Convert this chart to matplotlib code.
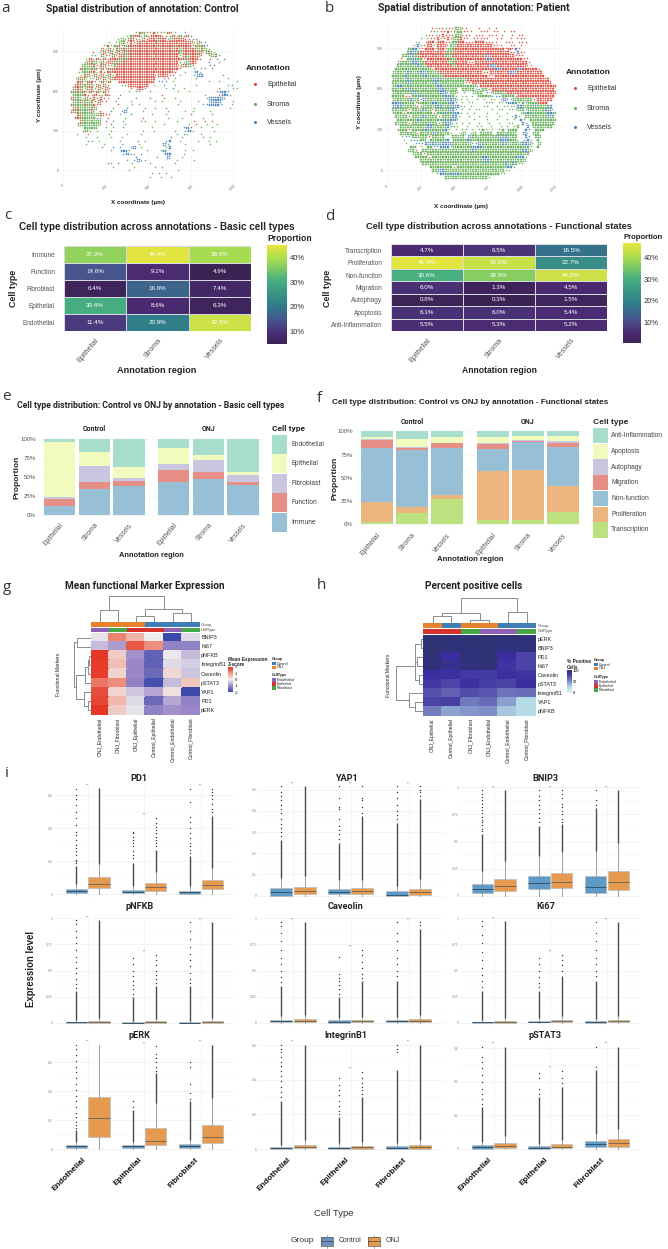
import numpy as np
import matplotlib
matplotlib.use("Agg")
import matplotlib.pyplot as plt
from matplotlib.cm import ScalarMappable
from matplotlib.colors import LinearSegmentedColormap, Normalize
from matplotlib.patches import Rectangle
from matplotlib.transforms import ScaledTranslation

W, H = 668, 1249
plt.rcParams["font.family"] = "Liberation Sans"
NARROW = "Roboto"

# spatial maps: each character is a 25 um cell, lower case one cell, upper case a dense cell
# e epithelial, s stroma, v vessels, x mixed epithelial/stroma
control_map = [
    "                    sxSesxeesxes  v",
    "                 sSxEsSeExEsesxeSexv",
    "               sSsxEesxeEExEEsxExEeevv",
    "            s sSxsEeExEEEExEEEExEEExsxvv",
    "           sxsSxeSExEEEEEExEEEExEEEEsxSxv",
    "          xsxsxSExxEEEExEEExEExESEEExSxSs",
    "        e sxsxsxeSExEEEEEEEEExEExSEEEExsxSs",
    "       ss xesxsExSEEEEEExEEEEEEEsESEExe eSxs",
    "      sxexsxeEExSxEEEEEEEEEEEEEEExSEEEe  e v v",
    "     sxxSsxeExSxEEEEEEEEEEEEEEEEssSEE   v  v",
    "     SSxxexxesSEEEEEEEEEEEEEEEEEexxSe    ve",
    "    xSSSxsxexxEEEEEEEEEEEEEEEEEEe   s sv v",
    "    sSSxxsxexxEEEEEEEEEEEEEEEEEe  s  Vs",
    "    sxxsxexsxsEEEEEEEEEEEeEEEee s   vVV     s",
    "   sxxsssxexsxEEEEEEEEEEEE  ve s     s        s",
    "   xxsxxesxsx  EEEEEEEEEE vvv s         s  s    v",
    "   ExSxxsxexe   ssEEEEEE s  s  s     s        sv",
    "  xExsxxsxexe     e EEs     s v  s         e   sv",
    "  SxSxexexsxe     s ss  e       s  s       vVVv",
    "  SSSxeexesxe  v           e           s   eVVs",
    "  ESSsxexexee  e    s   e   s  s        sVVVVv",
    "  SSxSSxexee  v   s      s s    s    s  vVVV   s",
    "  xSSSxSxee    e   s s          s      vvVVVv  s",
    "  xxSSSxS    s   v    s  s  s       s         s",
    "  xxSSSSe e  v  vV    s      s    s s    s",
    "   xxSSSSxxee  s  v     s   s      e     s",
    "   xxSSSSvv e    s    e      s   s     s",
    "    xSSSSS e v  s    ss  s     s    e  e e",
    "    xSSSSSe  e   s          s      s e  s  s",
    "     SSSS  s s  s       s        vVe  s  s",
    "     eSs s   s        s  s     s  vVs     s",
    "   s  e     s    s   s         s vs   s",
    "      s  s   s  s             v  s     s s",
    "      vv s     s    v s     vV  s    s  s s",
    "      s    s    v    s      Vs    s      s",
    "          s  v v  vV s      sV",
    "             s  VVs    s   sV     s s",
    "                vVvv v      VV   s",
    "                    v     s  V   s",
    "                 s vVvv        s    s",
    "            vs v   s    s      s",
    "             s     s     s s",
    "                  s             s",
    "                        s s s",
    "                        s  s  s",
]
patient_map = [
    "             eseeseeSSee   e  e e",
    "            eeseeEseSSeee  eee ee e ee",
    "           seeseEeeeSSeee eee eee e  e ee",
    "         s seeEseEeSSEee eeeee  ee  e eee",
    "        ss eEEsEEeeSSEEeeeEEEeeee  eee eee",
    "       sVseEEsEEEeSSEEEEEEEEEEEeee  ee e",
    "      SVVseEEEsEEeSSEEEEEEEEEEEEEEEeEeVe",
    "     SVVSEEEEEEEESSEEEEEEEEEEEEEEEEEeeVee",
    "    SSVSSEEEEEEEESSEEEEEEEEEEVEEEEEEEEeee",
    "   e SSVSSeEEEEEEESSEEEEEEEEEVVEEEEEEEEEee",
    "   SSSSVVSSEEEEEEESSEEEEeeEEEEEEEEEEEEEEEEe",
    "  SSSSSSVSSEEEEEEEESEEEEEEEEEEVVEEEEEEEEEee",
    "  SSSSSSSSSSSeEEEEEEEEEEEEEEEEEEVVEEEEEVEEEEEe",
    " SSSSVSSSVVSSSSEEEEEEEEEEEEEeeEEEEEEVVEEEEEEEE",
    " SSSSVSSSSSVSSSSSEEEEEEEEEEEEEeeEEEEEEEEEEEEEEE",
    " SSSSVSSSSSSSVVSSSSSSSSEEEEEEEEEEEEEEEEEEEEEEEEE",
    " SSSSSVSSSSSSSVSSSSSSSSeeEEEEEEEEEEEEEEEEEEEEEEEE",
    " SVVSSSSSSSSSSVVSSSSSSSSSSvEEEEEEEEEEEEEEEEEEEEEEE",
    " SSSSSVSSSSSSSSVVSSSS SSSSvvSSeEEEEEEEEEEEEEEEEEEE",
    " SSSSSSVSSSSSSSVVvSSs s  SSS vvSSSSEEEEEEEEEEEEEEE",
    " SSSSeeSSVSSSSSSSVVSs ss s SSSSvvvSSSSeEEEEEEEEEEE",
    " SSSSSVSSeVSSSSSVSVVss s  s s ss sVvvSSSSSSeEEEEE",
    " VVVSSSSeSSSSVVSSSVVs s ss   sss sssVVSvSvSSSEEE",
    " VVVSSSSeeSSSSVVSSSVVss s   ss  s ssssVVSSSVSSSSV",
    " SSSSSeSSSVSSeSSSSVVs s s ss   s ss sssSSvSSSSSVVs",
    " SSSeSSSSSSSSeSSVSSVVs s s   s  s  s   sSVSSSSSVVS",
    "  SSSSeSSSVSSSSeSSSVVs  s  s s   s   sVs SSSSSSSVS",
    "  SSSSSSVSSSSSSSVSVVs    s   s  s  s s Vs SSSSSSSS",
    "  SSSSeSSSSSVSSeSVVss s s  s  s  s  ss  Vs SSSSSSS",
    "   SSSSSSSSVVSSSSVsss  s  ss  s  s s sS  V SSSSSS",
    "   SSSeSSSSVSSSSSVs s ss s sSs s sS SSS  Vv SSS",
    "   SSSSSeSSSSVSSSSs  sS sS SSSS SSSSSS  Vs SS",
    "    svvSSSSSeSSSS  SSSS VSSSSSSSSVSVSSS  Vv SS",
    "    s vvvSS SSSSSV SSSSVSSSSSSSSSVVVSSs vVs S",
    "     s  vvvVVVSVVVVSSSSSSvvVSSSSSSVSSSSSVVVs S",
    "      SS s SSvvVVVvSSSSSSVVVSSSSSSSSSSSSSSs S",
    "      SSe SSSSSSSSSSSSSSSVSSSSSSSSSSSSSSVVSs",
    "       SSSeSSSSSSSSSSSSSSSSSSSSSSSSSSSSSSS",
    "        SSSSeSSSSSSSSSSSSSSSVVSSSSSSSSVVVs",
    "         SSSSSSSSSSSSSSSSSSSVVSSSSSSSSSSS",
    "          SSSSSSSSSSSSSSSSSSSSSSSSSVSVSss",
    "            SSSSSSSeSSSSSSSSSSSSSSSVVs",
    "             SSVVSSSSSSSSSSSSSSSSSSss",
    "              sVVSVVVSSSSSSSSSSSSss",
    "                 SSSSSSSSSSSSSs",
]

regions = ["Epithelial", "Stroma", "Vessels"]

basic_types = ["Immune", "Function", "Fibroblast", "Epithelial", "Endothelial"]
basic_pct = [[37.3, 44.4, 39.0], [14.6, 9.1, 4.9], [6.4, 16.9, 7.4], [30.4, 8.6, 6.3], [11.4, 20.9, 42.5]]
func_types = ["Transcription", "Proliferation", "Non-function", "Migration", "Autophagy", "Apoptosis", "Anti-Inflammation"]
func_pct = [[4.7, 6.5, 16.5], [46.4, 43.6, 22.7], [30.6, 36.9, 44.2], [6.0, 1.3, 4.5], [0.8, 0.3, 1.5],
            [6.1, 6.0, 5.4], [5.5, 5.3, 5.2]]

# stacked shares, bars run Control Epithelial/Stroma/Vessels then ONJ Epithelial/Stroma/Vessels
e_immune = [12, 34.5, 38.4, 43.2, 47.6, 39.7]
e_function = [9, 9.2, 6.6, 16.2, 9.2, 4.3]
e_fibroblast = [2.6, 20.3, 4, 7.4, 15.2, 8]
e_epithelial = [72, 18.5, 13.5, 21, 6.6, 3.9]
e_endothelial = [4.4, 17.5, 37.5, 12.2, 21.4, 44.1]
f_transcription = [2.5, 12, 27, 4.6, 4.6, 12.9]
f_proliferation = [21.1, 6.2, 5, 52.4, 53.3, 28.1]
f_nonfunction = [58.4, 61.4, 50.5, 24.4, 30.7, 42.6]
f_migration = [8.7, 2.9, 4.5, 5, 1.4, 4.3]
f_autophagy = [0.7, 0.4, 0.3, 1.1, 0.4, 1.7]
f_apoptosis = [2.9, 8.5, 6.3, 6.8, 5, 5.4]
f_antiinflam = [5.7, 8.6, 6.4, 5.7, 4.6, 5]

g_rows = ["BNIP3", "Ki67", "pNFKB", "IntegrinB1", "Caveolin", "pSTAT3", "YAP1", "PD1", "pERK"]
g_cols = ["ONJ_Endothelial", "ONJ_Fibroblast", "ONJ_Epithelial", "Control_Epithelial", "Control_Endothelial", "Control_Fibroblast"]
g_z = [[-0.1, 1.2, 0.7, 0.0, -2.0, -0.2],
       [-0.5, -0.8, 1.6, 1.1, -1.1, -1.1],
       [1.9, 0.4, -0.9, -1.6, -0.05, -0.5],
       [1.85, 0.55, -1.0, -1.6, -0.2, -0.3],
       [1.85, 0.3, -1.0, -1.5, 0.25, -0.4],
       [1.3, 1.1, -1.1, -1.9, -0.5, 0.45],
       [1.7, 0.3, -0.4, -0.7, 0.15, -2.0],
       [1.75, 0.65, -0.2, -1.5, -0.7, -1.1],
       [1.9, 0.4, -0.1, -1.1, -0.9, -1.0]]
g_group = [1, 1, 1, 0, 0, 0]
g_cell = [0, 2, 1, 1, 0, 2]
# dendrogram joins: x_a, h_a, x_b, h_b, h_join
g_top = [(0, 0, 1, 0, 37), (2, 0, 3, 0, 18), (4, 0, 5, 0, 28), (2.5, 18, 4.5, 28, 40), (0.5, 37, 3.5, 40, 77)]
g_left = [(0, 0, 1, 0, 42), (2, 0, 3, 0, 5), (2.5, 5, 4, 0, 9), (3.2, 9, 5, 0, 17), (7, 0, 8, 0, 7),
          (6, 0, 7.5, 7, 20), (4.1, 17, 6.7, 20, 45), (0.5, 42, 5.4, 45, 50)]

h_rows = ["pERK", "BNIP3", "PD1", "Ki67", "Caveolin", "pSTAT3", "IntegrinB1", "YAP1", "pNFKB"]
h_cols = ["ONJ_Epithelial", "Control_Epithelial", "ONJ_Fibroblast", "ONJ_Endothelial", "Control_Endothelial", "Control_Fibroblast"]
h_pct = [[98, 97, 98, 98, 97, 97],
         [98, 97, 97, 97, 96, 96],
         [97, 90, 97, 98, 90, 78],
         [97, 93, 96, 97, 86, 78],
         [88, 88, 84, 82, 88, 86],
         [85, 76, 88, 80, 78, 90],
         [72, 66, 74, 70, 60, 62],
         [78, 80, 58, 63, 45, 25],
         [57, 44, 48, 50, 32, 24]]
h_group = [1, 0, 1, 1, 0, 0]
h_cell = [1, 1, 2, 0, 0, 2]
h_top = [(0, 0, 1, 0, 21), (2, 0, 3, 0, 10), (0.5, 21, 2.5, 10, 30), (4, 0, 5, 0, 33), (1.5, 30, 4.5, 33, 76)]
h_left = [(0, 0, 1, 0, 8), (2, 0, 3, 0, 18), (0.5, 8, 2.5, 18, 24), (4, 0, 5, 0, 13), (1.5, 24, 4.5, 13, 26),
          (7, 0, 8, 0, 25), (6, 0, 7.5, 25, 43), (3, 26, 6.7, 43, 83)]

# box stats: q1, median, q3, upper whisker, top of the unbroken outlier run, separate outliers
# order: Control/ONJ for Endothelial, then Epithelial, then Fibroblast
pd1_boxes = [
    (.008, .018, .033, .063, .17, [.19, .2, .21, .24, .26, .28, .3, .33, .36, .38, .42, .46, .5, .54, .58, .6, .64]),
    (.04, .063, .102, .186, .643, []),
    (.006, .014, .027, .047, .19, [.22, .24, .26, .29, .31, .33, .35, .37, .38]),
    (.022, .043, .069, .133, .27, [.29, .31, .33, .35, .37, .39, .41, .43, .465]),
    (.004, .012, .022, .047, .23, [.25, .27, .29, .31, .34, .37, .4, .44, .47, .56, .64]),
    (.03, .053, .084, .16, .475, [.5, .52, .55, .58, .6, .62, .64]),
]
yap1_boxes = [
    (.0, .016, .037, .083, .265, [.28, .3, .32, .34, .36, .39, .41, .43, .45, .47, .49, .516]),
    (.006, .022, .041, .094, .516, []),
    (.008, .019, .033, .075, .25, [.27, .29, .31, .33, .36, .41, .42, .46, .516]),
    (.01, .021, .037, .075, .376, [.39, .42, .45, .46, .516]),
    (.0, .002, .022, .048, .344, [.36, .38, .4, .43, .46, .49, .516]),
    (.002, .017, .033, .081, .455, [.47, .49, .5, .516]),
]
bnip3_boxes = [
    (.021, .061, .107, .229, .57, [.6, .62, .65, .68, .7, .73, .76, .79, .82, .85, .88, .91, .94, .975]),
    (.046, .088, .159, .32, .975, []),
    (.064, .113, .186, .363, .646, [.68, .72, .76, .8, .84, .88, .92, .975]),
    (.073, .128, .207, .402, .66, [.68, .71, .75, .78, .82, .85, .9, .94, .975]),
    (.027, .079, .18, .41, .81, [.84, .88, .975]),
    (.055, .125, .229, .485, .975, []),
]
pnfkb_boxes = [
    (.002, .005, .01, .03, .3, [.33, .37, .42, .48, .52, .58, .63, .7, .76, .82, .88, .94, .98]),
    (.003, .008, .016, .045, .98, []),
    (.002, .004, .008, .02, .25, [.28, .32, .36, .4, .45, .5, .56, .62]),
    (.003, .007, .015, .04, .35, [.38, .42, .46, .5, .55, .6, .65]),
    (.002, .004, .009, .02, .35, [.38, .42, .48, .54, .6, .66, .72, .8, .88, .96]),
    (.003, .008, .018, .05, .96, []),
]
caveolin_boxes = [
    (.005, .015, .03, .065, .35, [.39, .44, .5, .56, .62, .7, .78, .86, .92, .96]),
    (.006, .017, .035, .075, .96, []),
    (.004, .012, .024, .05, .25, [.28, .32, .36, .4, .43, .47, .63]),
    (.006, .014, .028, .06, .4, [.43, .47, .52, .58, .65, .7]),
    (.005, .014, .028, .06, .4, [.45, .5, .56, .62, .7, .78, .86, .96]),
    (.007, .02, .035, .08, .9, [.93, .96]),
]
ki67_boxes = [
    (.002, .005, .01, .025, .3, [.34, .4, .46, .52, .6, .68, .76, .84, .92, .97]),
    (.004, .01, .02, .05, .97, []),
    (.005, .012, .022, .05, .3, [.34, .38, .44, .5, .56, .62]),
    (.008, .016, .03, .07, .45, [.5, .55, .6, .65]),
    (.004, .01, .017, .04, .4, [.45, .5, .56, .62, .7, .78, .86, .96]),
    (.006, .014, .03, .07, .96, []),
]
perk_boxes = [
    (.011, .021, .03, .053, .133, [.15, .17, .19, .22, .25, .29, .33, .37, .41, .45, .49, .53, .57, .61, .65, .69, .72]),
    (.083, .214, .363, .72, .72, []),
    (.011, .021, .03, .053, .27, [.29, .336]),
    (.028, .055, .147, .322, .524, [.54, .57, .6, .63, .66, .71]),
    (.009, .021, .037, .064, .33, [.35, .39, .45, .565, .6]),
    (.041, .083, .17, .352, .72, []),
]
integrin_boxes = [
    (.0, .006, .012, .023, .28, [.3, .33, .36, .39, .42, .45, .48, .5, .53, .56, .58, .6]),
    (.004, .012, .023, .052, .6, []),
    (.0, .008, .013, .033, .187, [.2, .22, .25, .28, .31, .34, .37, .41]),
    (.002, .012, .017, .042, .3, [.32, .34, .36, .38, .41, .446]),
    (.0, .008, .015, .037, .456, [.56, .58, .6]),
    (.002, .012, .025, .052, .6, []),
]
pstat3_boxes = [
    (.002, .012, .024, .044, .252, [.27, .3, .33, .36, .4, .44, .48, .52, .55, .61]),
    (.004, .016, .036, .077, .61, []),
    (.0, .008, .016, .03, .31, [.33, .36, .42, .45]),
    (.004, .014, .028, .054, .37, [.39, .42, .466]),
    (.01, .028, .046, .09, .47, [.49, .61]),
    (.014, .036, .058, .12, .61, []),
]

panel_names = ["PD1", "YAP1", "BNIP3", "pNFKB", "Caveolin", "Ki67", "pERK", "IntegrinB1", "pSTAT3"]
panel_boxes = [pd1_boxes, yap1_boxes, bnip3_boxes, pnfkb_boxes, caveolin_boxes, ki67_boxes,
               perk_boxes, integrin_boxes, pstat3_boxes]
panel_ylims = [(-.023, .657), (-.011, .518), (-.021, 1.013), (-.029, 1.01), (-.029, 1.01), (-.029, 1.01),
               (-.019, .726), (-.017, .606), (-.018, .625)]
panel_ticks = [[0, .2, .4, .6], [0, .1, .2, .3, .4, .5], [0, .25, .5, .75, 1], [0, .25, .5, .75, 1], [0, .25, .5, .75, 1],
               [0, .25, .5, .75, 1], [0, .2, .4, .6], [0, .2, .4, .6], [0, .2, .4, .6]]
cell_names = ["Endothelial", "Epithelial", "Fibroblast"]

C_EPI, C_STR, C_VES = "#DF4A3C", "#62B152", "#4A86BE"
SET_ENDO, SET_EPI, SET_FIB, SET_FUN, SET_IMM = "#A8DCCB", "#F1FBBD", "#C9C6E0", "#E58F86", "#97BFD6"
SET_PRO, SET_TRA = "#EBB67E", "#BBE27E"
C_CTRL, C_ONJ = "#5F9AC6", "#E59A50"
GROUP_COL = ["#3F7FB5", "#E5822E"]
CELL_COL = ["#8E5FB5", "#D5322E", "#45A845"]

fig = plt.figure(figsize=(W / 100, H / 100), dpi=100)


def axes_px(x0, y0, x1, y1):
    return fig.add_axes([x0 / W, 1 - y1 / H, (x1 - x0) / W, (y1 - y0) / H])


# transparent full-figure axes in pixel units for the labels and legend keys
bg = axes_px(0, 0, W, H)
bg.set_xlim(0, W)
bg.set_ylim(H, 0)
bg.axis("off")
bg.set_zorder(20)


def label(x, y, s, size=5, weight="normal", color="#222222", ha="center", va="center", **kw):
    bg.text(x, y, s, fontsize=size, fontweight=weight, color=color, ha=ha, va=va, **kw)


def key(x, y, w, h, color):
    bg.add_patch(Rectangle((x, y), w, h, facecolor=color, edgecolor="none"))


def spatial(rows, x0, y0, x1, y1, xlim, ylim, xticks):
    ax = axes_px(x0, y0, x1, y1)
    ax.set_xlim(*xlim)
    ax.set_ylim(*ylim)
    cells = {"e": ([], []), "s": ([], []), "v": ([], [])}
    step = 25
    for r, row in enumerate(rows):
        y = 1050 - r * step
        for c, ch in enumerate(row):
            if ch == " ":
                continue
            x = (c + 0.5 + 0.5 * (r % 2)) * step
            if ch == "x":
                for (dx, dy, k) in [(-6, -6, "e"), (6, -6, "s"), (-6, 6, "s"), (6, 6, "e")]:
                    cells[k][0].append(x + dx)
                    cells[k][1].append(y + dy)
            elif ch.isupper():
                for dx, dy in [(-6, -6), (6, -6), (-6, 6), (6, 6)]:
                    cells[ch.lower()][0].append(x + dx)
                    cells[ch.lower()][1].append(y + dy)
            else:
                cells[ch][0].append(x)
                cells[ch][1].append(y)
    for k, col in [("s", C_STR), ("e", C_EPI), ("v", C_VES)]:
        ax.scatter(cells[k][0], cells[k][1], s=1.3, color=col, linewidths=0, alpha=0.9)
    ax.set_xticks(xticks)
    ax.set_yticks([0, 300, 600, 900])
    ax.tick_params(length=0, labelsize=2.5, labelcolor="#777777", pad=1)
    ax.tick_params(axis="x", labelrotation=45)
    ax.grid(color="#F2F2F2", lw=0.4)
    ax.set_axisbelow(True)
    for s in ax.spines.values():
        s.set_visible(False)
    ax.patch.set_alpha(0)


spatial(control_map, 60, 28, 237, 182, (-23, 1226), (-91.5, 1083), [0, 300, 600, 900, 1200])
spatial(patient_map, 384, 24, 560, 183, (-25, 1295), (-96, 1080), [0, 250, 500, 750, 1000, 1250])

label(142, 9, "Spatial distribution of annotation: Control", size=7.5, family=NARROW, weight="bold")
label(474, 8, "Spatial distribution of annotation: Patient", size=7.5, family=NARROW, weight="bold")
label(138, 202, "X coordinate (µm)", size=4.6, weight="bold")
label(39, 95, "Y coordinate (µm)", size=4.6, weight="bold", rotation=90)
label(461, 206, "X coordinate (µm)", size=4.6, weight="bold")
label(360, 102, "Y coordinate (µm)", size=4.6, weight="bold", rotation=90)
for lx, ly, dots in [(246, 68, (84, 104, 122)), (566, 72, (88, 108, 127))]:
    label(lx, ly, "Annotation", size=6, weight="bold", ha="left")
    for dy, name, col in zip(dots, regions, [C_EPI, C_STR, C_VES]):
        bg.scatter([lx + 9], [dy], s=5, color=col, linewidths=0)
        label(lx + 21, dy, name, size=5.2, ha="left", color="#333333")

for s, x, y in [("a", 6, 8), ("b", 329, 8), ("c", 8, 215), ("d", 330, 216), ("e", 6, 396), ("f", 319, 398),
                ("g", 7, 587), ("h", 321, 585), ("i", 7, 773)]:
    label(x, y, s, size=11, color="#333333", family="Open Sans")

tile_cmap = LinearSegmentedColormap.from_list(
    "tiles", [(0, "#3B2354"), (0.1, "#4B2A72"), (0.24, "#46558C"), (0.4, "#2E7F8A"), (0.65, "#48B07F"),
              (0.85, "#A5DC50"), (1, "#E7E63F")])


def tile_panel(values, ylabels, box, cbox, vmin, vmax):
    ax = axes_px(*box)
    arr = np.array(values)
    ax.pcolormesh(arr, cmap=tile_cmap, vmin=vmin, vmax=vmax, edgecolors="#D8D8E0", linewidth=0.5)
    ax.invert_yaxis()
    for r in range(arr.shape[0]):
        for c in range(3):
            ax.text(c + 0.5, r + 0.5, "%.1f%%" % arr[r, c], color="white", fontsize=4.5, ha="center", va="center")
    ax.set_yticks(np.arange(arr.shape[0]) + 0.5, ylabels, fontsize=4.7, color="#555555")
    ax.set_xticks([0.5, 1.5, 2.5], regions, fontsize=5.2, color="#555555", rotation=50, ha="right", rotation_mode="anchor")
    ax.tick_params(length=0)
    ax.tick_params(axis="y", pad=6.5)
    ax.tick_params(axis="x", pad=4)
    for s in ax.spines.values():
        s.set_visible(False)
    cax = axes_px(*cbox)
    cb = fig.colorbar(ScalarMappable(Normalize(vmin, vmax), tile_cmap), cax=cax)
    cb.set_ticks([10, 20, 30, 40], labels=["10%", "20%", "30%", "40%"])
    cb.ax.tick_params(length=0, labelsize=5.5, labelcolor="#333333", pad=2)
    cb.outline.set_visible(False)


tile_panel(basic_pct, basic_types, (64, 246, 251, 331), (267, 245, 287, 344), 5, 45)
tile_panel(func_pct, func_types, (391, 244, 607, 331), (623, 243, 641, 343), 0.3, 47)
label(157, 227, "Cell type distribution across annotations - Basic cell types", size=7.1, weight="bold")
label(499, 226, "Cell type distribution across annotations - Functional states", size=6.7, weight="bold")
label(267, 238, "Proportion", size=6.2, weight="bold", ha="left")
label(624, 237, "Proportion", size=5.6, weight="bold", ha="left")
label(14, 288, "Cell type", size=6.4, weight="bold", rotation=90)
label(327, 288, "Cell type", size=6.4, weight="bold", rotation=90)
label(157, 370, "Annotation region", size=6.6, weight="bold")
label(499, 370, "Annotation region", size=6.2, weight="bold")


def stacked(series, colors, groups, boxes, gy):
    for g, (name, box) in enumerate(zip(groups, boxes)):
        ax = axes_px(*box)
        bottom = np.zeros(3)
        for vals, col in zip(series, colors):
            part = np.array(vals[g * 3:g * 3 + 3], dtype=float)
            ax.bar([1, 2, 3], part, width=0.9, bottom=bottom, color=col, edgecolor="none")
            bottom += part
        ax.set_xlim(0.4, 3.6)
        ax.set_ylim(-5, 105)
        ax.set_xticks([1, 2, 3], regions, fontsize=4.8, color="#555555", rotation=50, ha="right", rotation_mode="anchor")
        ax.set_yticks([0, 25, 50, 75, 100], ["0%", "25%", "50%", "75%", "100%"], fontsize=4.4, color="#555555")
        if g:
            ax.tick_params(labelleft=False)
        ax.tick_params(length=0, pad=2)
        ax.grid(axis="y", color="#F0F0F0", lw=0.4)
        ax.set_axisbelow(True)
        for s in ax.spines.values():
            s.set_visible(False)
        label((box[0] + box[2]) / 2, gy, name, size=5, weight="bold", family=NARROW)


stacked([e_immune, e_function, e_fibroblast, e_epithelial, e_endothelial],
        [SET_IMM, SET_FUN, SET_FIB, SET_EPI, SET_ENDO], ["Control", "ONJ"],
        [(38.7, 435, 150, 519), (152.6, 435, 264, 519)], 429)
stacked([f_transcription, f_proliferation, f_nonfunction, f_migration, f_autophagy, f_apoptosis, f_antiinflam],
        [SET_TRA, SET_PRO, SET_IMM, SET_FUN, SET_FIB, SET_EPI, SET_ENDO], ["Control", "ONJ"],
        [(355.5, 426.6, 468.5, 529), (471.5, 426.6, 584.5, 529)], 422)
label(151, 405, "Cell type distribution: Control vs ONJ by annotation - Basic cell types", size=6.2, family=NARROW, weight="bold")
label(470, 402, "Cell type distribution: Control vs ONJ by annotation - Functional states", size=5.9, weight="bold")
label(17, 477, "Proportion", size=6, weight="bold", rotation=90)
label(335, 478, "Proportion", size=6, weight="bold", rotation=90)
label(151, 555, "Annotation region", size=5.4, weight="bold")
label(470, 559, "Annotation region", size=5.6, weight="bold")
label(272, 428, "Cell type", size=6, weight="bold", ha="left", family=NARROW)
label(593, 422, "Cell type", size=6, weight="bold", ha="left")
e_legend = ["Endothelial", "Epithelial", "Fibroblast", "Function", "Immune"]
for i, (name, col) in enumerate(zip(e_legend, [SET_ENDO, SET_EPI, SET_FIB, SET_FUN, SET_IMM])):
    key(272, 434.5 + i * 19.5, 15, 19, col)
    label(291, 444 + i * 19.5, name, size=4.8, ha="left", color="#444444", family=NARROW)
f_legend = ["Anti-Inflammation", "Apoptosis", "Autophagy", "Migration", "Non-function", "Proliferation", "Transcription"]
f_keys = [SET_ENDO, SET_EPI, SET_FIB, SET_FUN, SET_IMM, SET_PRO, SET_TRA]
for i, (name, col) in enumerate(zip(f_legend, f_keys)):
    key(593, 428 + i * 15.7, 15, 15.3, col)
    label(611, 435.7 + i * 15.7, name, size=4.8, ha="left", color="#444444")

z_cmap = LinearSegmentedColormap.from_list(
    "zscore", [(0, "#3B4AA8"), (0.25, "#9B87C8"), (0.5, "#F0EEEE"), (0.75, "#EE9A88"), (1, "#E42D1C")])
pct_cmap = LinearSegmentedColormap.from_list(
    "pct", [(0, "#E4F3F6"), (0.25, "#B5DBE6"), (0.5, "#7F90C8"), (0.75, "#4F48A8"), (0.9, "#3A2DA0"), (1, "#2A3368")])


def dendro(box, links, vertical, hmax, n):
    ax = axes_px(*box)
    for xa, ha, xb, hb, hj in links:
        if vertical:
            ax.plot([xa, xa, xb, xb], [ha, hj, hj, hb], color="#8C8C8C", lw=0.7)
        else:
            ax.plot([ha, hj, hj, hb], [xa, xa, xb, xb], color="#8C8C8C", lw=0.7)
    if vertical:
        ax.set_xlim(-0.5, n - 0.5)
        ax.set_ylim(0, hmax)
    else:
        ax.set_xlim(hmax, 0)
        ax.set_ylim(n - 0.5, -0.5)
    ax.axis("off")


def clustered(values, rows, cols, group, cell, cmap, vmin, vmax, tiles, bars, top, left, top_box, left_box, lab_x):
    ax = axes_px(*tiles)
    ax.pcolormesh(np.array(values), cmap=cmap, vmin=vmin, vmax=vmax, edgecolors="face", linewidth=0.1)
    ax.invert_yaxis()
    ax.axis("off")
    for box, idx, palette in [(bars[0], group, GROUP_COL), (bars[1], cell, CELL_COL)]:
        bar_ax = axes_px(tiles[0], box[0], tiles[2], box[1])
        bar_ax.bar(np.arange(6) + 0.5, [1] * 6, width=1, color=[palette[i] for i in idx])
        bar_ax.set_xlim(0, 6)
        bar_ax.set_ylim(0, 1)
        bar_ax.axis("off")
    # link heights are kept in thirds of a pixel
    dendro(top_box, top, True, (top_box[3] - top_box[1]) * 3, 6)
    dendro(left_box, left, False, (left_box[2] - left_box[0]) * 3, 9)
    step_y = (tiles[3] - tiles[1]) / 9
    step_x = (tiles[2] - tiles[0]) / 6
    for r, name in enumerate(rows):
        label(lab_x, tiles[1] + (r + 0.5) * step_y, name, size=3.9, ha="left", color="#222222")
    for c, name in enumerate(cols):
        label(tiles[0] + (c + 0.5) * step_x, tiles[3] + 2.5, name, size=3.6, va="top", rotation=90, color="#222222")
    label(lab_x, (bars[0][0] + bars[0][1]) / 2, "Group", size=2.9, ha="left", color="#444444")
    label(lab_x, (bars[1][0] + bars[1][1]) / 2, "CellType", size=2.9, ha="left", color="#444444")


clustered(g_z, g_rows, g_cols, g_group, g_cell, z_cmap, -2, 2, (90.7, 633, 200, 715), [(622, 627.3), (627.7, 632.3)],
          g_top, g_left, (90.7, 596, 200, 622), (73, 633, 90.7, 715), 201)
clustered(h_pct, h_rows, h_cols, h_group, h_cell, pct_cmap, 0, 100, (423.3, 635, 536, 715.7), [(623.3, 628.3), (629, 633.7)],
          h_top, h_left, (423.3, 597, 536, 623.3), (390, 635, 423.3, 715.7), 538)
label(145, 586, "Mean functional Marker Expression", size=7.2, weight="bold", family=NARROW)
label(474, 586, "Percent positive cells", size=7.2, weight="bold", family=NARROW)
label(58, 674, "Functional Markers", size=3.6, rotation=90)
label(389, 675, "Functional Markers", size=3.6, rotation=90)

for cbox, cmap, lo, hi, ticks, labels in [((228, 667, 233, 692), z_cmap, -2, 2, [-2, -1, 0, 1, 2], ["-2", "-1", "0", "1", "2"]),
                                          ((567, 670, 571.5, 693), pct_cmap, 0, 100, [0, 50, 100], ["0", "50", "100"])]:
    cb = fig.colorbar(ScalarMappable(Normalize(lo, hi), cmap), cax=axes_px(*cbox))
    cb.set_ticks(ticks, labels=labels)
    cb.ax.tick_params(length=0, labelsize=2.9, pad=1)
    cb.outline.set_visible(False)
label(228, 659, "Mean Expression", size=3.4, weight="bold", ha="left")
label(228, 664, "Z-score", size=3.4, weight="bold", ha="left")
label(567, 661, "% Positive", size=3.4, weight="bold", ha="left")
label(567, 667, "Cells", size=3.4, weight="bold", ha="left")
for gx, gy, ty in [(272, 659, 675), (594, 660, 677)]:
    label(gx, gy, "Group", size=2.7, weight="bold", ha="left")
    for i, (name, col) in enumerate(zip(["Control", "ONJ"], GROUP_COL)):
        key(gx, gy + 3 + i * 3.6, 4, 3.4, col)
        label(gx + 5, gy + 4.7 + i * 3.6, name, size=2.6, ha="left")
    label(gx, ty, "CellType", size=2.7, weight="bold", ha="left")
    for i, (name, col) in enumerate(zip(cell_names, CELL_COL)):
        key(gx, ty + 3 + i * 4, 4, 3.8, col)
        label(gx + 5, ty + 4.9 + i * 4, name, size=2.6, ha="left")

# expression box plots
col_spans = [(53.7, 235), (258.3, 443.5), (459.7, 641)]
row_spans = [(786, 898), (917, 1026), (1044, 1152)]
title_ys = [778, 906, 1035]
for idx, (name, boxes, ylim, ticks) in enumerate(zip(panel_names, panel_boxes, panel_ylims, panel_ticks)):
    row, col = idx // 3, idx % 3
    ax = axes_px(col_spans[col][0], row_spans[row][0], col_spans[col][1], row_spans[row][1])
    for b, (q1, med, q3, whi, solid, sparse) in enumerate(boxes):
        pos = 1 + b // 2 + (-0.2 if b % 2 == 0 else 0.2)
        color = C_CTRL if b % 2 == 0 else C_ONJ
        ax.bxp([dict(med=med, q1=q1, q3=q3, whislo=0, whishi=whi, fliers=[])], positions=[pos], widths=0.38,
               patch_artist=True, showcaps=False, showfliers=False, manage_ticks=False,
               boxprops=dict(facecolor=color, edgecolor="#BBBBBB", lw=0.5),
               medianprops=dict(color="#7A6A50" if b % 2 else "#33556F", lw=0.7),
               whiskerprops=dict(color="#A0A0A0", lw=0.7))
        if solid > whi:
            ax.plot([pos, pos], [whi, solid], color="#4A4A4A", lw=1.0, solid_capstyle="butt")
        ax.plot([pos] * len(sparse), sparse, ls="none", marker="o", ms=1.0, mew=0, color="#333333")
    for c in range(3):
        tops = [boxes[c * 2 + i][4] if not boxes[c * 2 + i][5] else boxes[c * 2 + i][5][-1] for i in range(2)]
        ax.text(c + 1, min(max(tops) + 0.008 * (ylim[1] - ylim[0]), ylim[1]), "***", fontsize=2, color="#666666",
                ha="center", va="bottom", clip_on=False)
    ax.set_xlim(0.4, 3.6)
    ax.set_ylim(*ylim)
    ax.set_yticks(ticks, ["%g" % t for t in ticks], fontsize=2.4, color="#888888")
    ax.set_yticks([(a + b) / 2 for a, b in zip(ticks[:-1], ticks[1:])], minor=True)
    ax.tick_params(which="both", length=0, pad=1)
    ax.grid(which="major", color="#EDEDED", lw=0.4)
    ax.grid(which="minor", axis="y", color="#F4F4F4", lw=0.3)
    ax.set_axisbelow(True)
    if row == 2:
        ax.set_xticks([1, 2, 3], cell_names, fontsize=5.9, color="#111111", rotation=45, ha="right",
                      rotation_mode="anchor", fontweight="bold")
        ax.tick_params(axis="x", pad=3)
        shift = ScaledTranslation(-4 / 72, 0, fig.dpi_scale_trans)
        for tl in ax.get_xticklabels():
            tl.set_transform(tl.get_transform() + shift)
    else:
        ax.set_xticks([1, 2, 3], [])
    for s in ax.spines.values():
        s.set_visible(False)
    label((col_spans[col][0] + col_spans[col][1]) / 2 - 5, title_ys[row], name, size=6.6, weight="bold", family=NARROW)

label(31, 969, "Expression level", size=6.9, rotation=90, weight="bold")
label(334, 1214, "Cell Type", size=6.8, color="#333333")
label(302, 1241, "Group", size=6, color="#333333")
for kx, lx, name, col in [(321, 339, "Control", "#6F90BF"), (368, 386, "ONJ", C_ONJ)]:
    key(kx, 1237, 12, 8.5, col)
    bg.add_patch(Rectangle((kx, 1237), 12, 8.5, fill=False, edgecolor="#555555", lw=0.5))
    bg.plot([kx, kx + 12], [1241.2, 1241.2], color="#444444", lw=0.5)
    bg.plot([kx + 6, kx + 6], [1235, 1237], color="#666666", lw=0.4)
    bg.plot([kx + 6, kx + 6], [1245.5, 1247.5], color="#666666", lw=0.4)
    label(lx, 1241, name, size=5, ha="left", color="#333333")
bg.set_xlim(0, W)
bg.set_ylim(H, 0)

fig.savefig("out.png", dpi=100)
